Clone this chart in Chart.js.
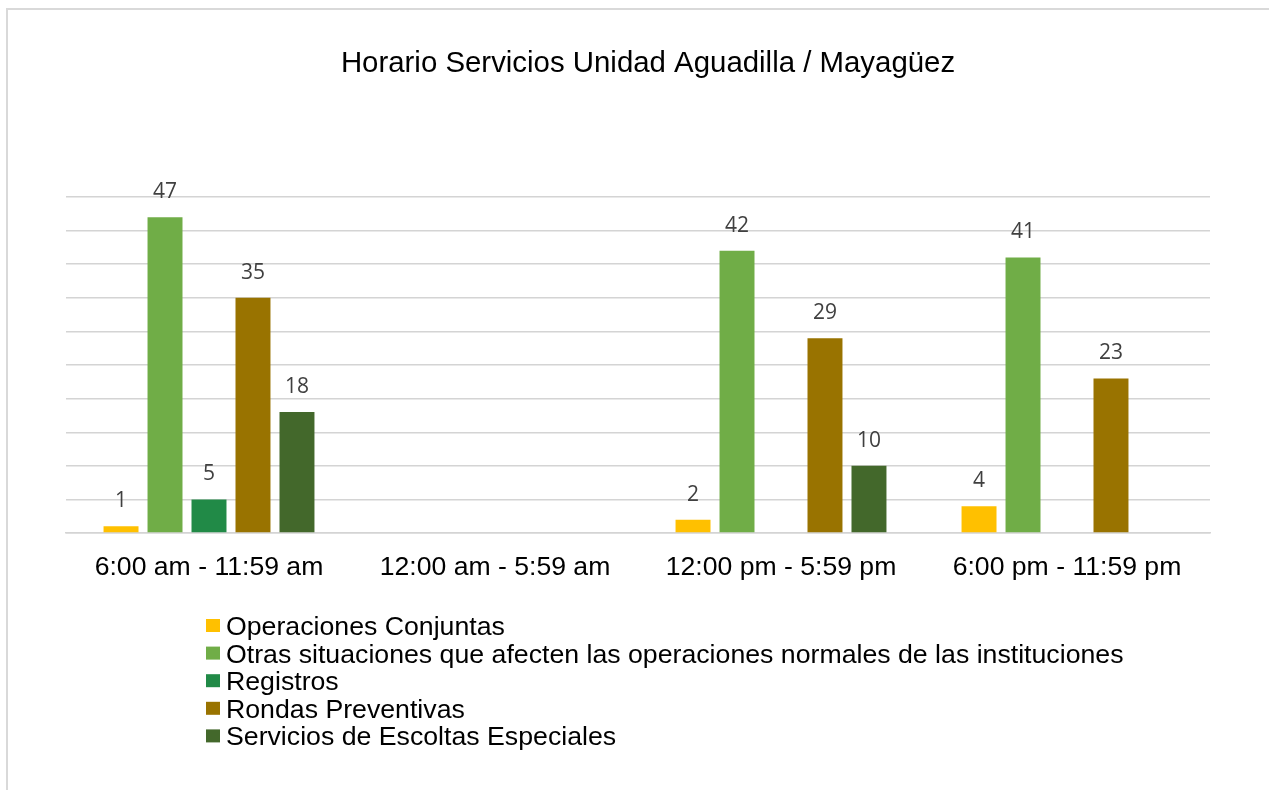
<!DOCTYPE html>
<html>
<head>
<meta charset="utf-8">
<script src="https://cdn.jsdelivr.net/npm/chart.js@4/dist/chart.umd.min.js"></script>
<style>
  body { margin: 0; background: #fff; }
</style>
</head>
<body>
<canvas id="myChart" width="1269" height="790"></canvas>
<script>
// Datos del gráfico
const titulo = 'Horario Servicios Unidad Aguadilla / Mayagüez';
const categorias = ['6:00 am - 11:59 am', '12:00 am - 5:59 am', '12:00 pm - 5:59 pm', '6:00 pm - 11:59 pm'];
const series = ['Operaciones Conjuntas', 'Otras situaciones que afecten las operaciones normales de las instituciones', 'Registros', 'Rondas Preventivas', 'Servicios de Escoltas Especiales'];
const operaciones = [1, null, 2, 4];
const otras = [47, null, 42, 41];
const registros = [5, null, null, null];
const rondas = [35, null, 29, 23];
const escoltas = [18, null, 10, null];
const colores = ['#FFC000', '#70AD47', '#218A47', '#997300', '#43682B'];

const valores = [operaciones, otras, registros, rondas, escoltas];

// Fondo, bordes y título
const fondoPlugin = {
  id: 'fondo',
  beforeDraw(chart) {
    const ctx = chart.ctx;
    ctx.save();
    ctx.fillStyle = '#fff';
    ctx.fillRect(0, 0, chart.width, chart.height);
    ctx.fillStyle = '#d9d9d9';
    ctx.fillRect(6, 8, chart.width - 6, 2);
    ctx.fillRect(6, 8, 2, chart.height - 8);
    ctx.fillStyle = '#000';
    ctx.font = '29.4px "Liberation Sans", Arial, sans-serif';
    ctx.textAlign = 'center';
    ctx.textBaseline = 'alphabetic';
    ctx.fillText(titulo, 648, 72);
    ctx.restore();
  }
};

// Etiquetas de datos encima de cada barra
const etiquetasPlugin = {
  id: 'etiquetas',
  afterDatasetsDraw(chart) {
    const ctx = chart.ctx;
    ctx.save();
    ctx.fillStyle = '#404040';
    ctx.font = '21px "Open Sans", sans-serif';
    ctx.textAlign = 'center';
    ctx.textBaseline = 'middle';
    chart.data.datasets.forEach((ds, i) => {
      chart.getDatasetMeta(i).data.forEach((bar, j) => {
        const v = ds.data[j];
        if (v === null || v === undefined) return;
        ctx.fillText(String(v), bar.x, bar.y - 25);
      });
    });
    ctx.restore();
  }
};

// Leyenda vertical
const leyendaPlugin = {
  id: 'leyenda',
  afterDraw(chart) {
    const ctx = chart.ctx;
    ctx.save();
    ctx.font = '26.7px "Liberation Sans", Arial, sans-serif';
    ctx.textAlign = 'left';
    ctx.textBaseline = 'alphabetic';
    chart.data.datasets.forEach((ds, i) => {
      const cy = 625.5 + i * 27.6;
      ctx.fillStyle = ds.backgroundColor;
      ctx.fillRect(206, cy - 6.5, 14, 13);
      ctx.fillStyle = '#000';
      ctx.fillText(ds.label, 226, cy + 9.5);
    });
    ctx.restore();
  }
};

const ctx = document.getElementById('myChart').getContext('2d');
const myChart = new Chart(ctx, {
  type: 'bar',
  data: {
    labels: categorias,
    datasets: series.map((s, i) => ({
      label: s,
      data: valores[i],
      backgroundColor: colores[i],
      borderWidth: 0,
      categoryPercentage: 0.769,
      barPercentage: 0.795
    }))
  },
  plugins: [fondoPlugin, etiquetasPlugin, leyendaPlugin],
  options: {
    responsive: false,
    animation: false,
    devicePixelRatio: 1,
    layout: {
      padding: { left: 66, right: 59, top: 197, bottom: 195 }
    },
    plugins: {
      legend: { display: false },
      title: { display: false },
      tooltip: { enabled: false }
    },
    scales: {
      x: {
        grid: { display: false },
        border: { display: true, color: '#d4d4d4', width: 1.5 },
        ticks: {
          color: '#000',
          padding: 11,
          maxRotation: 0,
          font: { family: '"Liberation Sans", Arial, sans-serif', size: 26.6 }
        }
      },
      y: {
        min: 0,
        max: 50,
        ticks: { display: false, stepSize: 5 },
        grid: { color: '#d4d4d4', lineWidth: 1.5, drawTicks: false },
        border: { display: false }
      }
    }
  }
});
</script>
</body>
</html>
